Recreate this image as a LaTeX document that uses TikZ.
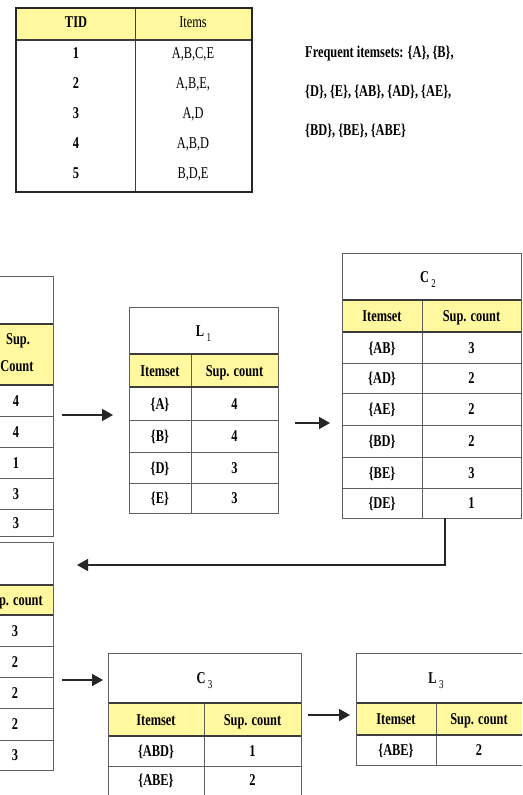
\documentclass[tikz,border=0pt]{standalone}
\usepackage{fontspec}
\setmainfont{Liberation Serif}[FakeStretch=0.75]
\usetikzlibrary{arrows.meta}

\definecolor{hdr}{RGB}{255,248,158}
\definecolor{rulec}{RGB}{95,95,95}
\definecolor{rulek}{RGB}{60,60,60}

% lowered subscript used in the table titles (C 2, L 1, ...)
\newcommand\tsub[1]{\hspace{2.5pt}\raisebox{-5pt}{\fontsize{12}{12}\selectfont\mdseries #1}}

\tikzset{
  gridline/.style={draw=rulec, line width=0.8pt},
  hdrline/.style={draw=rulek, line width=1.4pt},
  frame/.style={draw=rulec, line width=0.9pt},
  bt/.style={font=\bfseries\fontsize{16.5}{16.5}\selectfont, inner sep=0pt,
             text height=11pt, text depth=0pt},
  rt/.style={font=\fontsize{16.5}{16.5}\selectfont, inner sep=0pt,
             text height=11pt, text depth=0pt},
  arr/.style={draw=black!85, line width=1.5pt,
              -{Triangle[length=11pt,width=12pt]}},
}

\begin{document}
\begin{tikzpicture}[x=1pt,y=-1pt]
\useasboundingbox (0,0) rectangle (522,795);
\clip (0,0) rectangle (522,795);
\fill[white] (0,0) rectangle (522,795);

% ---------------- transaction table ----------------
\fill[hdr] (16,8) rectangle (252,40);
\draw[hdrline] (16,40) -- (252,40);
\draw[draw=rulek, line width=1pt] (135,8) -- (135,192);
\draw[draw=black!85, line width=1.8pt] (16,8) rectangle (252,192);
\node[bt] (tidh) at (76,22) {TID};
\node[rt] (itmh) at (193,22) {Items};
\node[bt] (tid1) at (76,53) {1};  \node[rt] (itm1) at (193,53) {A,B,C,E};
\node[bt] (tid2) at (76,83) {2};  \node[rt] (itm2) at (193,83) {A,B,E,};
\node[bt] (tid3) at (76,113) {3}; \node[rt] (itm3) at (193,113) {A,D};
\node[bt] (tid4) at (76,143) {4}; \node[rt] (itm4) at (193,143) {A,B,D};
\node[bt] (tid5) at (76,173) {5}; \node[rt] (itm5) at (193,173) {B,D,E};

% ---------------- result text ----------------
\node[bt, anchor=west] (fq1) at (305,52) {Frequent itemsets: \{A\}, \{B\},};
\node[bt, anchor=west] (fq2) at (305,91) {\{D\}, \{E\}, \{AB\}, \{AD\}, \{AE\},};
\node[bt, anchor=west] (fq3) at (305,130) {\{BD\}, \{BE\}, \{ABE\}};

% ---------------- C1 (left, partly outside) ----------------
\fill[hdr] (-19,324) rectangle (53,385);
\foreach \yy in {416,447,478,509} \draw[gridline] (-19,\yy) -- (53,\yy);
\draw[hdrline] (-19,324) -- (53,324);
\draw[hdrline] (-19,385) -- (53,385);
\draw[frame] (-19,276) rectangle (53,536);
\node[bt] (c1ha) at (18,339) {Sup.};
\node[bt] (c1hb) at (17,366) {Count};
\node[bt] (c1r1) at (16,400.5) {4};
\node[bt] (c1r2) at (16,431.5) {4};
\node[bt] (c1r3) at (16,462.5) {1};
\node[bt] (c1r4) at (16,493.5) {3};
\node[bt] (c1r5) at (16,522.5) {3};

% ---------------- L2 (left, partly outside) ----------------
\fill[hdr] (-23,585) rectangle (53,615);
\foreach \yy in {646,677,708,740} \draw[gridline] (-23,\yy) -- (53,\yy);
\draw[hdrline] (-23,585) -- (53,585);
\draw[hdrline] (-23,615) -- (53,615);
\draw[frame] (-23,542) rectangle (53,770);
\node[bt] (l2h) at (14,600) {Sup. count};
\node[bt] (l2r1) at (15,630.5) {3};
\node[bt] (l2r2) at (15,661.5) {2};
\node[bt] (l2r3) at (15,692.5) {2};
\node[bt] (l2r4) at (15,724) {2};
\node[bt] (l2r5) at (15,755) {3};

% ---------------- L1 ----------------
\fill[hdr] (129,354) rectangle (278,387);
\foreach \yy in {420,452,483} \draw[gridline] (129,\yy) -- (278,\yy);
\draw[gridline] (191,354) -- (191,513);
\draw[hdrline] (129,354) -- (278,354);
\draw[hdrline] (129,387) -- (278,387);
\draw[frame] (129,307) rectangle (278,513);
\node[bt] (l1t) at (203.5,331) {L\tsub{1}};
\node[bt] (l1ha) at (160,370.5) {Itemset};
\node[bt] (l1hb) at (234.5,370.5) {Sup. count};
\node[bt] (l1a1) at (160,403.5) {\{A\}}; \node[bt] (l1b1) at (234.5,403.5) {4};
\node[bt] (l1a2) at (160,436) {\{B\}};   \node[bt] (l1b2) at (234.5,436) {4};
\node[bt] (l1a3) at (160,467.5) {\{D\}}; \node[bt] (l1b3) at (234.5,467.5) {3};
\node[bt] (l1a4) at (160,498) {\{E\}};   \node[bt] (l1b4) at (234.5,498) {3};

% ---------------- C2 ----------------
\fill[hdr] (342,300) rectangle (521,332);
\foreach \yy in {363,393,425,457,488} \draw[gridline] (342,\yy) -- (521,\yy);
\draw[gridline] (422,300) -- (422,518);
\draw[hdrline] (342,300) -- (521,300);
\draw[hdrline] (342,332) -- (521,332);
\draw[frame] (342,253) rectangle (521,518);
\node[bt] (c2t) at (428,277) {C\tsub{2}};
\node[bt] (c2ha) at (382,316) {Itemset};
\node[bt] (c2hb) at (471.5,316) {Sup. count};
\node[bt] (c2a1) at (382,347.5) {\{AB\}}; \node[bt] (c2b1) at (471.5,347.5) {3};
\node[bt] (c2a2) at (382,378) {\{AD\}};   \node[bt] (c2b2) at (471.5,378) {2};
\node[bt] (c2a3) at (382,409) {\{AE\}};   \node[bt] (c2b3) at (471.5,409) {2};
\node[bt] (c2a4) at (382,441) {\{BD\}};   \node[bt] (c2b4) at (471.5,441) {2};
\node[bt] (c2a5) at (382,472.5) {\{BE\}}; \node[bt] (c2b5) at (471.5,472.5) {3};
\node[bt] (c2a6) at (382,503) {\{DE\}};   \node[bt] (c2b6) at (471.5,503) {1};

% ---------------- C3 ----------------
\fill[hdr] (108,703) rectangle (301,736);
\draw[gridline] (108,766) -- (301,766);
\draw[gridline] (204,703) -- (204,800);
\draw[hdrline] (108,703) -- (301,703);
\draw[hdrline] (108,736) -- (301,736);
\draw[frame] (108,653) rectangle (301,800);
\node[bt] (c3t) at (204.5,678) {C\tsub{3}};
\node[bt] (c3ha) at (156,719.5) {Itemset};
\node[bt] (c3hb) at (252.5,719.5) {Sup. count};
\node[bt] (c3a1) at (156,751) {\{ABD\}}; \node[bt] (c3b1) at (252.5,751) {1};
\node[bt] (c3a2) at (156,780) {\{ABE\}}; \node[bt] (c3b2) at (252.5,780) {2};

% ---------------- L3 ----------------
\fill[hdr] (356,703) rectangle (523,735);
\draw[gridline] (436,703) -- (436,765);
\draw[hdrline] (356,703) -- (523,703);
\draw[hdrline] (356,735) -- (523,735);
\draw[frame] (356,653) rectangle (523,765);
\node[bt] (l3t) at (436,678) {L\tsub{3}};
\node[bt] (l3ha) at (396,719) {Itemset};
\node[bt] (l3hb) at (479,719) {Sup. count};
\node[bt] (l3a1) at (396,750) {\{ABE\}}; \node[bt] (l3b1) at (479,750) {2};

% ---------------- flow arrows ----------------
\coordinate (a1s) at (62,415);  \coordinate (a1e) at (113,415);
\coordinate (a2s) at (295,423); \coordinate (a2e) at (330,423);
\coordinate (fbs) at (445,518); \coordinate (fbe) at (77,565);
\coordinate (a3s) at (62,680);  \coordinate (a3e) at (103,680);
\coordinate (a4s) at (308,715); \coordinate (a4e) at (350,715);
\draw[arr] (a1s) -- (a1e);
\draw[arr] (a2s) -- (a2e);
\draw[arr] (fbs) |- (fbe);
\draw[arr] (a3s) -- (a3e);
\draw[arr] (a4s) -- (a4e);
\end{tikzpicture}
\end{document}
